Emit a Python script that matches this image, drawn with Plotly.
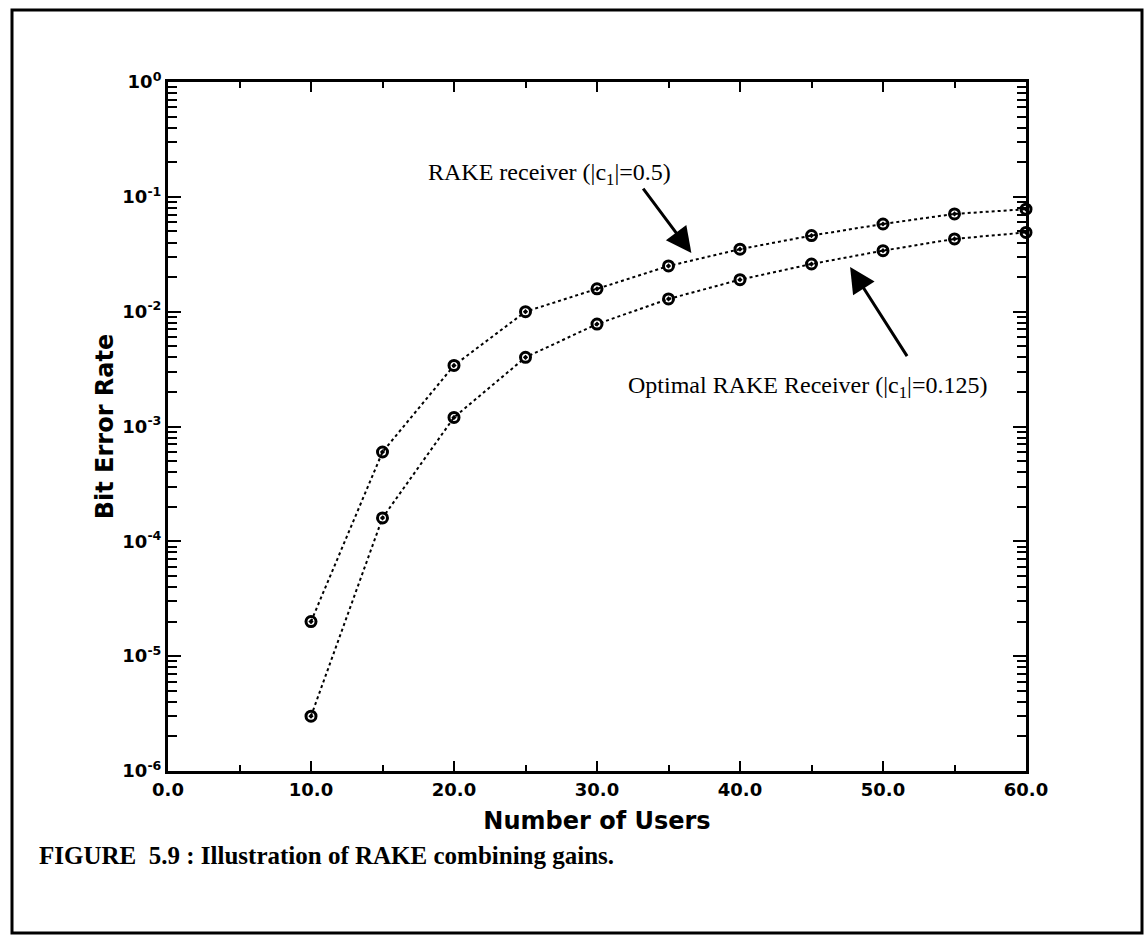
import plotly.graph_objects as go

users = [10, 15, 20, 25, 30, 35, 40, 45, 50, 55, 60]
ber_rake = [2.0e-5, 6.0e-4, 3.4e-3, 1.0e-2, 1.58e-2, 2.5e-2, 3.5e-2, 4.6e-2, 5.8e-2, 7.1e-2, 7.8e-2]
ber_optimal = [3.0e-6, 1.6e-4, 1.2e-3, 4.0e-3, 7.8e-3, 1.29e-2, 1.9e-2, 2.6e-2, 3.4e-2, 4.3e-2, 4.9e-2]

x_ticks = [0, 10, 20, 30, 40, 50, 60]
x_ticktext = ["0.0", "10.0", "20.0", "30.0", "40.0", "50.0", "60.0"]
y_ticks = [1, 1e-1, 1e-2, 1e-3, 1e-4, 1e-5, 1e-6]
y_ticktext = ["10<sup>0</sup>", "10<sup>-1</sup>", "10<sup>-2</sup>", "10<sup>-3</sup>",
              "10<sup>-4</sup>", "10<sup>-5</sup>", "10<sup>-6</sup>"]

fig = go.Figure()
for ys in (ber_rake, ber_optimal):
    fig.add_trace(go.Scatter(
        x=users, y=ys, mode="lines+markers",
        line=dict(color="black", width=2, dash="dot"),
        marker=dict(symbol="circle-open-dot", size=10, color="black", line=dict(width=3, color="black")),
        showlegend=False, cliponaxis=False,
    ))

tickfont = dict(family="DejaVu Sans", size=18, color="black", weight="bold")
titlefont = dict(family="DejaVu Sans", size=24, color="black", weight="bold")

fig.update_layout(
    width=1144, height=936,
    margin=dict(l=168, r=118, t=82, b=165),
    paper_bgcolor="white", plot_bgcolor="white",
    xaxis=dict(
        range=[0, 60], tickvals=x_ticks, ticktext=x_ticktext,
        ticks="inside", ticklen=10, tickwidth=2, tickcolor="black",
        minor=dict(dtick=5, ticks="inside", ticklen=6, tickwidth=2, tickcolor="black", showgrid=False),
        showline=True, linewidth=3, linecolor="black", mirror="allticks",
        showgrid=False, zeroline=False, tickfont=tickfont,
        title=dict(text="Number of Users", font=titlefont, standoff=14),
    ),
    yaxis=dict(
        type="log", range=[-6, 0], tickvals=y_ticks, ticktext=y_ticktext,
        ticks="inside", ticklen=13, tickwidth=2, tickcolor="black",
        minor=dict(dtick="D1", ticks="inside", ticklen=9, tickwidth=2, tickcolor="black", showgrid=False),
        showline=True, linewidth=3, linecolor="black", mirror="allticks",
        showgrid=False, zeroline=False, tickfont=tickfont,
        title=dict(text="Bit Error Rate", font=titlefont, standoff=2),
    ),
)

serif = dict(family="Liberation Serif", size=24, color="black")
fig.add_annotation(x=26.7, y=-0.80, xref="x", yref="y", text="RAKE receiver (|c<sub>1</sub>|=0.5)",
                   showarrow=False, font=serif)
fig.add_annotation(x=44.7, y=-2.66, xref="x", yref="y", text="Optimal RAKE Receiver (|c<sub>1</sub>|=0.125)",
                   showarrow=False, font=serif)
fig.add_annotation(x=36.6, y=-1.49, xref="x", yref="y", ax=33.15, ay=-0.915, axref="x", ayref="y",
                   text="", showarrow=True, arrowhead=2, arrowsize=1.7, arrowwidth=3, arrowcolor="black")
fig.add_annotation(x=47.7, y=-1.61, xref="x", yref="y", ax=51.75, ay=-2.40, axref="x", ayref="y",
                   text="", showarrow=True, arrowhead=2, arrowsize=1.7, arrowwidth=3, arrowcolor="black")

# caption
fig.add_annotation(x=(37 - 168) / 858, y=(771 - 855) / 689, xref="paper", yref="paper",
                   xanchor="left", yanchor="middle", showarrow=False,
                   text="<b>FIGURE  5.9 : Illustration of RAKE combining gains.</b>",
                   font=dict(family="Liberation Serif", size=25, color="black"))

# outer frame
fig.add_shape(type="rect", xref="paper", yref="paper",
              x0=(12 - 168) / 858, x1=(1142 - 168) / 858,
              y0=(771 - 933) / 689, y1=(771 - 10) / 689,
              line=dict(color="black", width=3), layer="below")

fig.write_html("out.html")
